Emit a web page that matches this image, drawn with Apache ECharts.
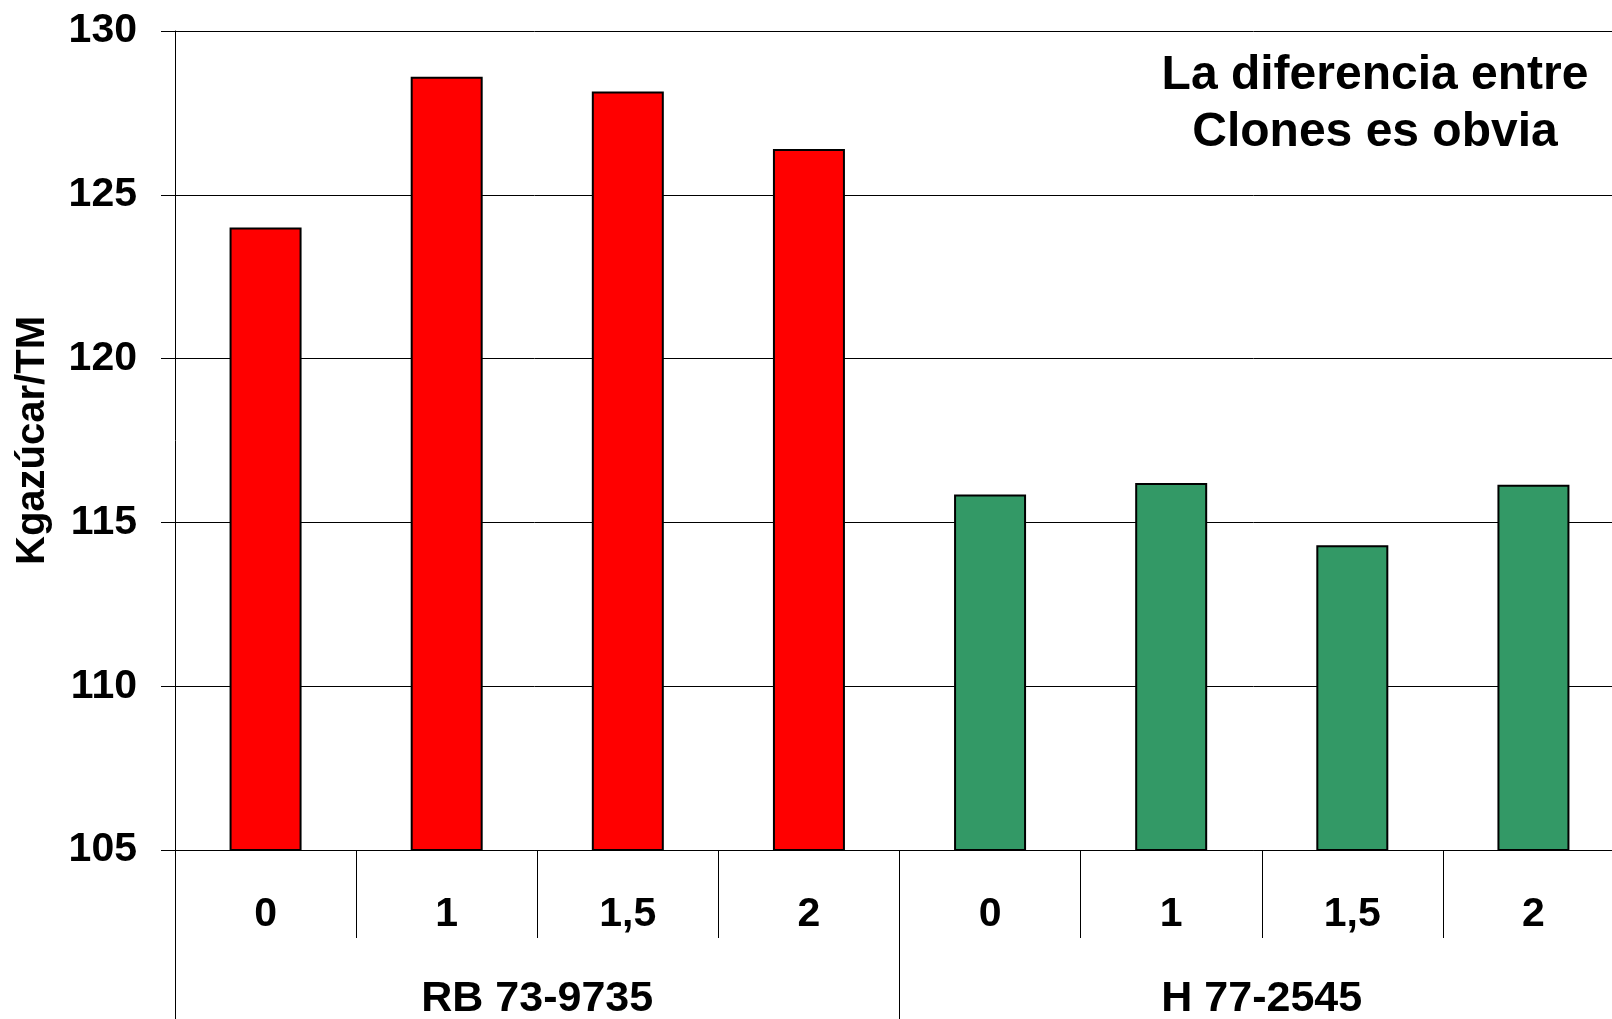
<!DOCTYPE html>
<html>
<head>
<meta charset="utf-8">
<script src="https://cdn.jsdelivr.net/npm/echarts@6/dist/echarts.min.js"></script>
<style>
html,body{margin:0;padding:0;background:#fff;}
#chart{width:1612px;height:1019px;}
</style>
</head>
<body>
<div id="chart"></div>
<script>
const doseLabels = ['0', '1', '1,5', '2', '0', '1', '1,5', '2'];
const cloneLabels = ['RB 73-9735', 'H 77-2545'];
const rbValues = [124.0, 128.6, 128.15, 126.4];
const hValues = [115.85, 116.2, 114.3, 116.15];
const yTicks = { min: 105, max: 130, interval: 5 };
const yAxisTitle = 'Kgazúcar/TM';
const noteText = 'La diferencia entre\nClones es obvia';

const FONT = '"Liberation Sans", Arial, sans-serif';
const chart = echarts.init(document.getElementById('chart'), null, { renderer: 'canvas' });

const redData = rbValues.concat(hValues.map(() => '-'));
const greenData = rbValues.map(() => '-').concat(hValues);

chart.setOption({
  animation: false,
  backgroundColor: '#ffffff',
  grid: { left: 175, top: 31, right: -12, bottom: 169, containLabel: false, outerBoundsMode: 'none' },
  xAxis: [
    {
      type: 'category',
      data: doseLabels,
      position: 'bottom',
      boundaryGap: true,
      axisLine: { show: true, lineStyle: { color: '#000', width: 1 } },
      axisTick: { show: true, interval: 0, length: 88, lineStyle: { color: '#000', width: 1 } },
      axisLabel: { interval: 0, margin: 44, color: '#000', fontSize: 41, fontWeight: 'bold', fontFamily: FONT },
      splitLine: { show: false }
    },
    {
      type: 'category',
      data: cloneLabels,
      position: 'bottom',
      offset: 0,
      boundaryGap: true,
      axisLine: { show: false },
      axisTick: { show: true, interval: 0, length: 169, lineStyle: { color: '#000', width: 1 } },
      axisLabel: { interval: 0, margin: 128, color: '#000', fontSize: 43, fontWeight: 'bold', fontFamily: FONT },
      splitLine: { show: false }
    }
  ],
  yAxis: {
    type: 'value',
    min: yTicks.min,
    max: yTicks.max,
    interval: yTicks.interval,
    name: yAxisTitle,
    nameLocation: 'middle',
    nameGap: 122,
    nameTextStyle: { color: '#000', fontSize: 40, fontWeight: 'bold', fontFamily: FONT },
    axisLine: { show: true, lineStyle: { color: '#000', width: 1 } },
    axisTick: { show: true, length: 14, lineStyle: { color: '#000', width: 1 } },
    axisLabel: { margin: 38, color: '#000', fontSize: 41, fontWeight: 'bold', fontFamily: FONT },
    splitLine: { show: true, lineStyle: { color: '#000', width: 1 } }
  },
  series: [
    {
      type: 'bar',
      xAxisIndex: 0,
      data: redData,
      barWidth: 72,
      barGap: '-100%',
      itemStyle: { color: '#ff0000', borderColor: '#000', borderWidth: 2 }
    },
    {
      type: 'bar',
      xAxisIndex: 0,
      data: greenData,
      barWidth: 72,
      barGap: '-100%',
      itemStyle: { color: '#339966', borderColor: '#000', borderWidth: 2 }
    }
  ],
  graphic: [
    {
      type: 'text',
      x: 1375,
      y: 104,
      style: {
        text: noteText,
        fill: '#000',
        font: 'bold 48px ' + FONT,
        lineHeight: 57,
        align: 'center',
        verticalAlign: 'middle'
      }
    }
  ]
});
</script>
</body>
</html>
